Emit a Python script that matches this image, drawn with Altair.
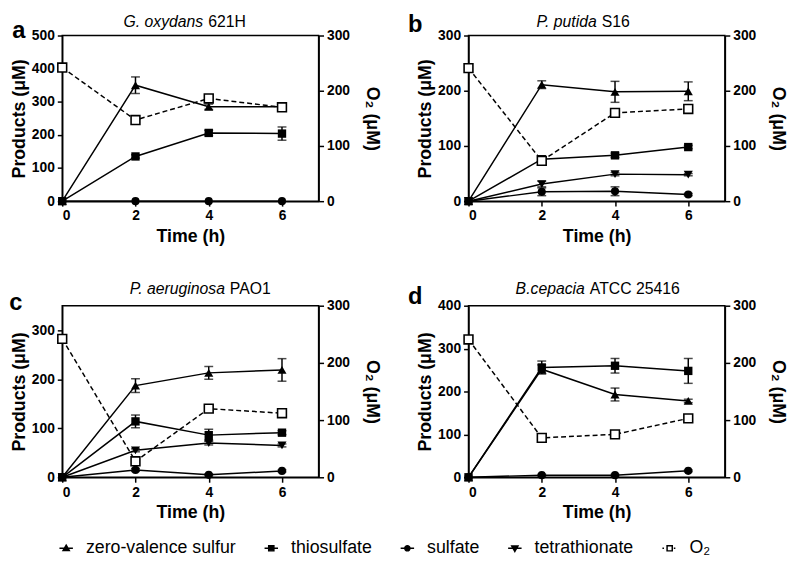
import altair as alt
import pandas as pd

FONT = "Liberation Sans"

T = [0, 2, 4, 6]
SERIES = ["zero-valence sulfur", "thiosulfate", "sulfate", "tetrathionate"]
LEGEND_LABELS = ["zero-valence sulfur", "thiosulfate", "sulfate", "tetrathionate", "O₂"]

# ---- panel a: G. oxydans 621H ----
A_ZVS = [0, 350, 285, 285]
A_ZVS_ERR = [0, 25, 8, 8]
A_THIO = [0, 135, 206, 204]
A_THIO_ERR = [0, 5, 8, 20]
A_SULF = [0, 0, 0, 0]
A_SULF_ERR = [0, 0, 0, 0]
A_O2 = [242, 147, 186, 170]

# ---- panel b: P. putida S16 ----
B_ZVS = [0, 211, 198, 199]
B_ZVS_ERR = [0, 7, 19, 17]
B_THIO = [0, 76, 83, 98]
B_THIO_ERR = [0, 5, 4, 3]
B_SULF = [0, 17, 18, 12]
B_SULF_ERR = [0, 7, 8, 2]
B_TETRA = [0, 31, 49, 48]
B_TETRA_ERR = [0, 5, 3, 2]
B_O2 = [241, 73, 160, 167]

# ---- panel c: P. aeruginosa PAO1 ----
C_ZVS = [0, 187, 213, 219]
C_ZVS_ERR = [0, 14, 13, 23]
C_THIO = [0, 114, 86, 91]
C_THIO_ERR = [0, 13, 12, 4]
C_SULF = [0, 15, 5, 13]
C_SULF_ERR = [0, 3, 2, 2]
C_TETRA = [0, 55, 70, 65]
C_TETRA_ERR = [0, 3, 4, 3]
C_O2 = [242, 28, 120, 112]

# ---- panel d: B. cepacia ATCC 25416 ----
D_ZVS = [0, 252, 193, 178]
D_ZVS_ERR = [0, 10, 15, 4]
D_THIO = [0, 256, 260, 248]
D_THIO_ERR = [0, 15, 17, 29]
D_SULF = [0, 5, 5, 15]
D_SULF_ERR = [0, 2, 2, 2]
D_O2 = [241, 69, 75, 103]

SHAPES = {"zero-valence sulfur": "triangle-up", "thiosulfate": "square",
          "sulfate": "circle", "tetrathionate": "triangle-down"}
SIZES = {"zero-valence sulfur": 85, "thiosulfate": 72, "sulfate": 68, "tetrathionate": 85}
DRAW_ORDER = ["sulfate", "tetrathionate", "zero-valence sulfur", "thiosulfate"]

LEGEND_PATHS = [
    "M-1.3,0H1.3M0,-0.6L0.6,0.45H-0.6Z",
    "M-1.3,0H1.3M-0.5,-0.5H0.5V0.5H-0.5Z",
    "M-1.3,0H1.3M0.5,0A0.5,0.5,0,1,1,-0.5,0A0.5,0.5,0,1,1,0.5,0Z",
    "M-1.3,0H1.3M0,0.6L0.6,-0.45H-0.6Z",
    "M-1.4,0H-1.1M0.8,0H1.1M-0.5,-0.5H0.5V0.5H-0.5Z",
]
LEGEND_FILLS = ["black", "black", "black", "black", "white"]
LEGEND_STROKES = ["black", "black", "black", "black", "black"]

W = 260


def make_panel(series, o2, ymax, yticks, title_it, title_rm, split_x, title_y,
               letter, letter_x, letter_y, height, legend=False):
    rows = []
    for name, (vals, errs) in series.items():
        for t, v, e in zip(T, vals, errs):
            rows.append({"t": t, "v": v, "lo": v - e, "hi": v + e, "e": e, "s": name})
    df = pd.DataFrame(rows)
    o2df = pd.DataFrame({"t": T, "o": o2})

    x_enc = alt.X("t:Q", scale=alt.Scale(domain=[0, 7], nice=False),
                  axis=alt.Axis(values=T, title="Time (h)", titlePadding=5))
    yscale = alt.Scale(domain=[0, ymax], nice=False)
    yaxis = alt.Axis(values=yticks, title="Products (μM)", orient="left", titlePadding=3)

    base = alt.Chart(df)
    lines = base.mark_line(color="black", strokeWidth=1.5).encode(
        x=x_enc, y=alt.Y("v:Q", scale=yscale, axis=yaxis), detail="s:N")
    errdf = base.transform_filter("datum.e > 0")
    rules = errdf.mark_rule(color="black", strokeWidth=1.5).encode(
        x=x_enc, y=alt.Y("lo:Q", scale=yscale, axis=yaxis), y2="hi:Q")
    cap_lo = errdf.mark_tick(color="black", orient="horizontal", size=9, thickness=1.5).encode(
        x=x_enc, y=alt.Y("lo:Q", scale=yscale, axis=yaxis))
    cap_hi = errdf.mark_tick(color="black", orient="horizontal", size=9, thickness=1.5).encode(
        x=x_enc, y=alt.Y("hi:Q", scale=yscale, axis=yaxis))
    pts = []
    for name in DRAW_ORDER:
        if name in series:
            pts.append(base.transform_filter(alt.datum.s == name).mark_point(
                shape=SHAPES[name], filled=True, color="black", opacity=1,
                size=SIZES[name]).encode(
                x=x_enc, y=alt.Y("v:Q", scale=yscale, axis=yaxis)))
    left = alt.layer(lines, rules, cap_lo, cap_hi, *pts)

    oscale = alt.Scale(domain=[0, 300], nice=False)
    oaxis = alt.Axis(values=[0, 100, 200, 300], title="O₂ (μM)", orient="right",
                     titleAngle=90, titlePadding=13)
    obase = alt.Chart(o2df)
    oline = obase.mark_line(color="black", strokeWidth=1.5, strokeDash=[5, 3]).encode(
        x=x_enc, y=alt.Y("o:Q", scale=oscale, axis=oaxis))
    opts = obase.mark_square(fill="white", stroke="black", strokeWidth=1.6, size=80,
                             opacity=1).encode(
        x=x_enc, y=alt.Y("o:Q", scale=oscale, axis=oaxis))
    right = alt.layer(oline, opts)

    tdf = pd.DataFrame({"a": [title_it], "b": [title_rm], "l": [letter]})
    tb = alt.Chart(tdf)
    t_it = tb.mark_text(font=FONT, fontSize=16, fontStyle="italic", align="right",
                        baseline="alphabetic", color="black").encode(
        text="a:N", x=alt.value(split_x - 2), y=alt.value(title_y))
    t_rm = tb.mark_text(font=FONT, fontSize=16, align="left",
                        baseline="alphabetic", color="black").encode(
        text="b:N", x=alt.value(split_x + 3), y=alt.value(title_y))
    t_letter = tb.mark_text(font=FONT, fontSize=24, fontWeight="bold", align="center",
                            baseline="alphabetic", color="black").encode(
        text="l:N", x=alt.value(letter_x), y=alt.value(letter_y))
    layers = [left, right, t_it, t_rm, t_letter]

    if legend:
        ldf = pd.DataFrame({"lg": LEGEND_LABELS})
        leg = alt.Legend(title=None, orient="none", direction="horizontal", columns=5,
                         legendX=-5, legendY=237,
                         labelFont=FONT, labelFontSize=18, labelFontWeight="normal",
                         labelColor="black", symbolSize=110, symbolStrokeWidth=1.5,
                         symbolStrokeColor="black", symbolOpacity=1,
                         labelOffset=11, columnPadding=25, padding=0)
        dummy = alt.Chart(ldf).mark_point(filled=True, opacity=0, size=1,
                                          stroke="black", strokeWidth=1.5).encode(
            x=alt.value(0), y=alt.value(0),
            shape=alt.Shape("lg:N", scale=alt.Scale(domain=LEGEND_LABELS, range=LEGEND_PATHS),
                            legend=leg),
            fill=alt.Fill("lg:N", scale=alt.Scale(domain=LEGEND_LABELS, range=LEGEND_FILLS),
                          legend=leg),
            stroke=alt.Stroke("lg:N", scale=alt.Scale(domain=LEGEND_LABELS, range=LEGEND_STROKES),
                              legend=leg),
        )
        layers.append(dummy)

    return alt.layer(*layers).resolve_scale(y="independent").properties(width=W, height=height)


pa = make_panel({"zero-valence sulfur": (A_ZVS, A_ZVS_ERR), "thiosulfate": (A_THIO, A_THIO_ERR),
                 "sulfate": (A_SULF, A_SULF_ERR)}, A_O2, 500, [0, 100, 200, 300, 400, 500],
                "G. oxydans", "621H", 145, -9, "a", -44, 3, 168)
pb = make_panel({"zero-valence sulfur": (B_ZVS, B_ZVS_ERR), "thiosulfate": (B_THIO, B_THIO_ERR),
                 "sulfate": (B_SULF, B_SULF_ERR), "tetrathionate": (B_TETRA, B_TETRA_ERR)},
                B_O2, 300, [0, 100, 200, 300], "P. putida", "S16", 132, -9, "b", -54, -4, 168)
pc = make_panel({"zero-valence sulfur": (C_ZVS, C_ZVS_ERR), "thiosulfate": (C_THIO, C_THIO_ERR),
                 "sulfate": (C_SULF, C_SULF_ERR), "tetrathionate": (C_TETRA, C_TETRA_ERR)},
                C_O2, 350, [0, 100, 200, 300], "P. aeruginosa", "PAO1", 167, -12, "c", -47, 4,
                174, legend=True)
pd_ = make_panel({"zero-valence sulfur": (D_ZVS, D_ZVS_ERR), "thiosulfate": (D_THIO, D_THIO_ERR),
                  "sulfate": (D_SULF, D_SULF_ERR)}, D_O2, 400, [0, 100, 200, 300, 400],
                 "B.cepacia", "ATCC 25416", 120, -12, "d", -54, -2, 174)

chart = alt.concat(pa, pb, pc, pd_, columns=2,
                   spacing=alt.RowColnumber(row=106, column=152),
                   bounds="flush").resolve_legend(
    shape="independent", fill="independent", stroke="independent").resolve_scale(
    shape="independent", fill="independent", stroke="independent").properties(
    padding={"left": 0, "top": 0, "right": 0, "bottom": 0}
).configure(font=FONT).configure_view(stroke="black", strokeWidth=1.5).configure_axis(
    grid=False, domainColor="black", domainWidth=1.5, tickColor="black", tickWidth=1.5,
    tickSize=5, labelFont=FONT, labelFontSize=14, labelFontWeight="bold", labelColor="black",
    labelPadding=3, titleFont=FONT, titleFontSize=18, titleFontWeight="bold", titleColor="black"
)

chart.save("out.html", embed_options={"renderer": "svg", "actions": False})
